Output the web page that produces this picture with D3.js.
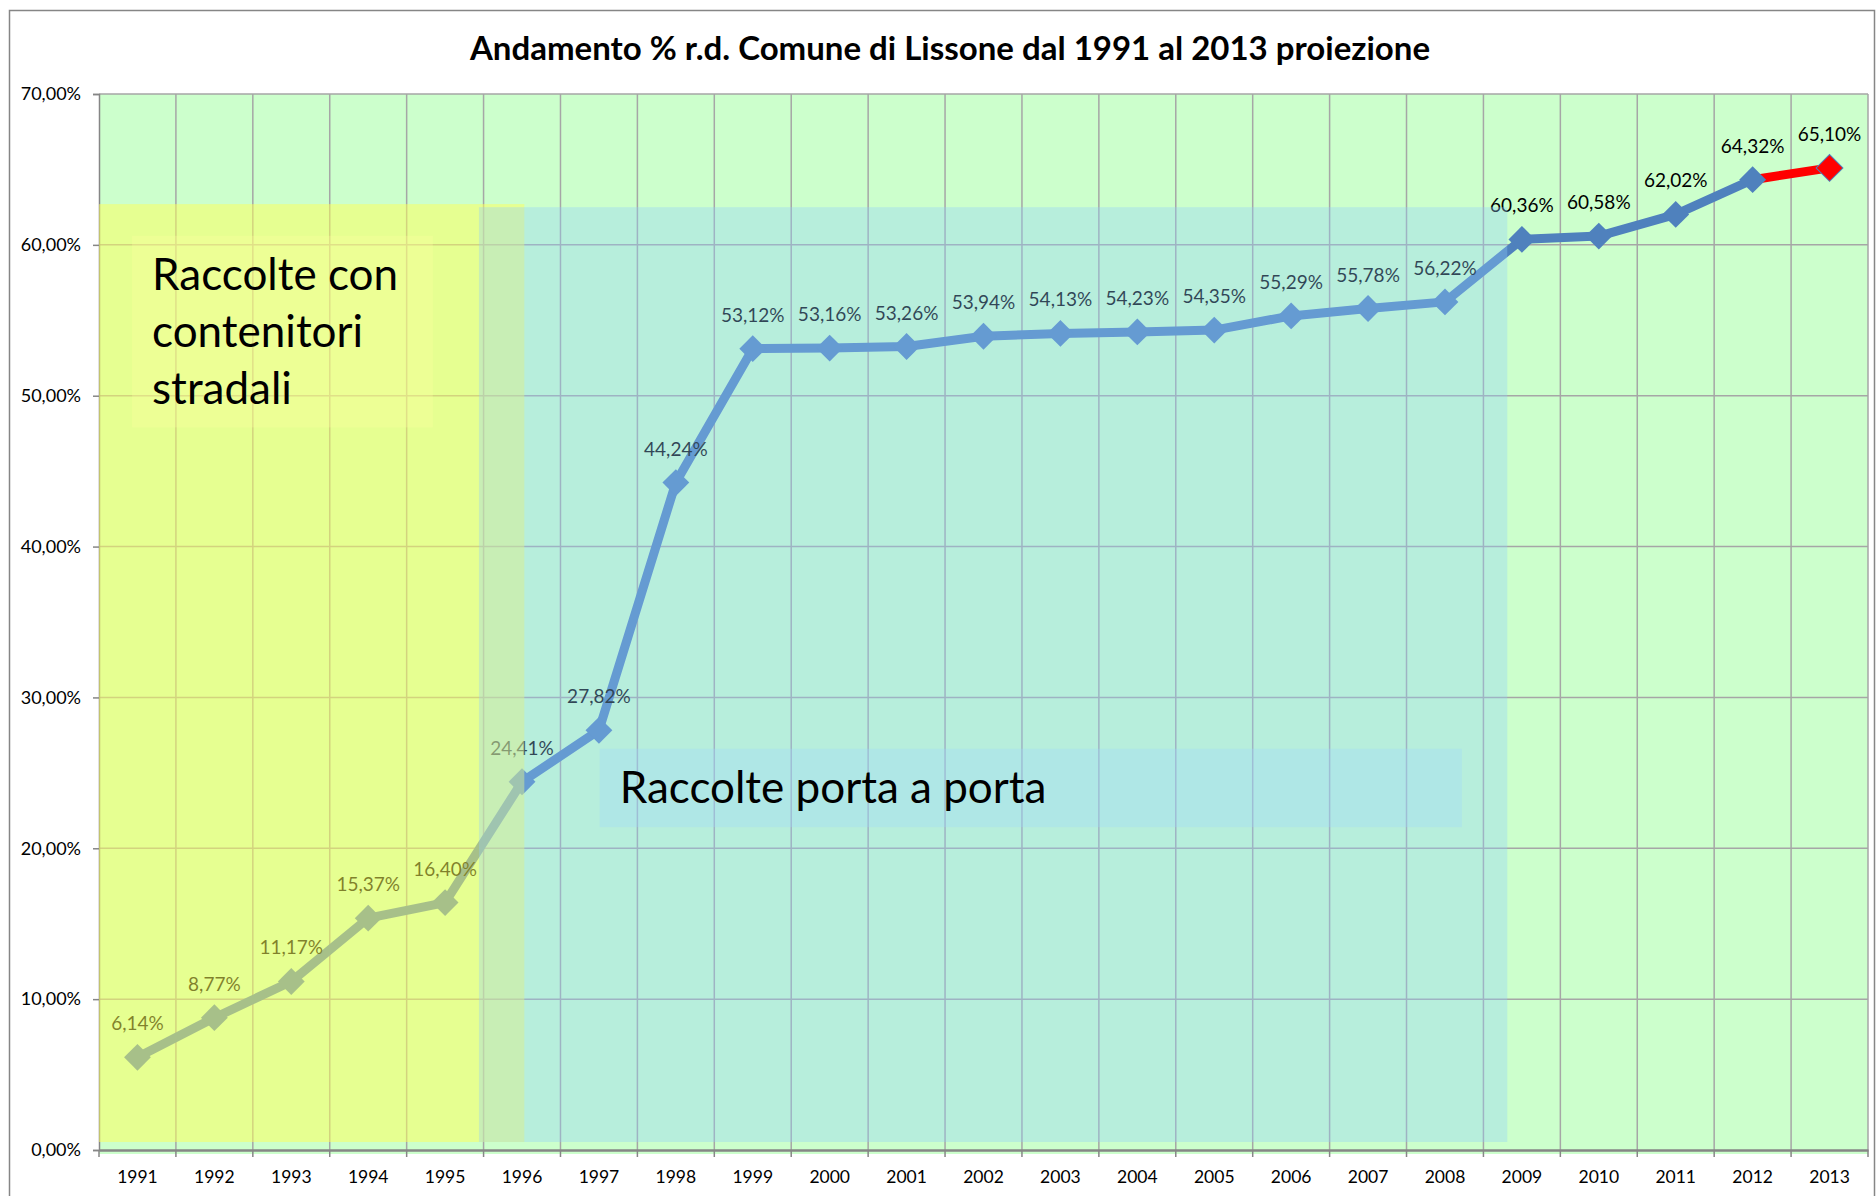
<!DOCTYPE html>
<html>
<head>
  <meta charset="utf-8">
  <title>Andamento % r.d. Lissone</title>
  <script src="https://d3js.org/d3.v7.min.js"></script>
  <style>
    body { margin: 0; background: #fff; }
    text { font-family: Lato, "Open Sans", sans-serif; }
  </style>
</head>
<body>
<script>
// dati: percentuale raccolta differenziata per anno
var anni = ["1991","1992","1993","1994","1995","1996","1997","1998","1999","2000","2001","2002",
            "2003","2004","2005","2006","2007","2008","2009","2010","2011","2012","2013"];
var valori = [6.14, 8.77, 11.17, 15.37, 16.40, 24.41, 27.82, 44.24, 53.12, 53.16, 53.26, 53.94,
              54.13, 54.23, 54.35, 55.29, 55.78, 56.22, 60.36, 60.58, 62.02, 64.32, 65.10];
var etichette = valori.map(function(v) { return v.toFixed(2).replace(".", ",") + "%"; });
var ticksY = [0, 10, 20, 30, 40, 50, 60, 70];
var titolo = "Andamento % r.d. Comune di Lissone dal 1991 al 2013 proiezione";
var ultimoReale = "2012"; // 2013 e' una proiezione

var width = 1876, height = 1196;
var mLeft = 99, mRight = 1868, mTop = 94, mBottom = 1150;

var svg = d3.select("body").append("svg").attr("width", width).attr("height", height);

// cornice esterna
svg.append("rect")
  .attr("x", 9.5).attr("y", 10.5).attr("width", 1865).attr("height", 1220)
  .attr("fill", "#fff").attr("stroke", "#868686").attr("stroke-width", 1.5);

var x = d3.scaleBand().domain(anni).range([mLeft, mRight]).padding(0);
var y = d3.scaleLinear().domain([0, 70]).range([mBottom, mTop]);
function xi(i) { return mLeft + i * x.step(); } // posizione in unita' di banda
function cx(d) { return x(d) + x.bandwidth() / 2; }

// area del grafico
svg.append("rect")
  .attr("x", mLeft).attr("y", mTop).attr("width", mRight - mLeft).attr("height", mBottom - mTop + 4)
  .attr("fill", "#ccffcc");

// griglia
svg.append("g").selectAll("line").data(ticksY.slice(1)).enter().append("line")
  .attr("x1", mLeft).attr("x2", mRight)
  .attr("y1", function(d) { return y(d); }).attr("y2", function(d) { return y(d); })
  .attr("stroke", "#a6a6a6").attr("stroke-width", 1.5);
svg.append("g").selectAll("line").data(d3.range(1, anni.length + 1)).enter().append("line")
  .attr("x1", xi).attr("x2", xi).attr("y1", mTop).attr("y2", mBottom)
  .attr("stroke", "#a6a6a6").attr("stroke-width", 1.5);

// assi
var axisY = svg.append("g").attr("transform", "translate(" + mLeft + ",0)")
  .call(d3.axisLeft(y).tickValues(ticksY).tickSize(6).tickPadding(12)
    .tickFormat(function(d) { return d.toFixed(2).replace(".", ",") + "%"; }));
var axisX = svg.append("g").attr("transform", "translate(0," + mBottom + ")")
  .call(d3.axisBottom(x).tickSize(0).tickPadding(21));
axisX.selectAll(".tick line").remove();
axisX.selectAll(".bordo").data(d3.range(0, anni.length + 1)).enter().append("line")
  .attr("class", "bordo")
  .attr("x1", xi).attr("x2", xi).attr("y1", 0).attr("y2", 7);
[axisY, axisX].forEach(function(a) {
  a.select(".domain").attr("stroke", "#868686").attr("stroke-width", 2.5);
  a.selectAll("line").attr("stroke", "#868686").attr("stroke-width", 1.5);
  a.selectAll("text").attr("fill", "#000").style("font-size", "17.5px")
    .style("font-family", "Lato, 'Open Sans', sans-serif");
});
axisY.select(".domain").attr("stroke-width", 1.5);
axisY.selectAll("text").style("font-size", "18px");

// serie
var dati = anni.map(function(a, i) { return { anno: a, v: valori[i], lab: etichette[i] }; });
var iReale = anni.indexOf(ultimoReale);
var line = d3.line().x(function(d) { return cx(d.anno); }).y(function(d) { return y(d.v); });

svg.append("path").datum(dati.slice(iReale))
  .attr("d", line).attr("fill", "none").attr("stroke", "#ff0000").attr("stroke-width", 9);
svg.append("path").datum(dati.slice(0, iReale + 1))
  .attr("d", line).attr("fill", "none").attr("stroke", "#4f81bd").attr("stroke-width", 9)
  .attr("stroke-linejoin", "round");

var diamond = d3.symbol().type(d3.symbolSquare).size(360);
svg.append("g").selectAll("path").data(dati).enter().append("path")
  .attr("d", diamond)
  .attr("transform", function(d) { return "translate(" + cx(d.anno) + "," + y(d.v) + ") rotate(45)"; })
  .attr("fill", function(d, i) { return i > iReale ? "#ff0000" : "#4f81bd"; })
  .attr("stroke", "#4f81bd").attr("stroke-width", function(d, i) { return i > iReale ? 1 : 0; });

svg.append("g").selectAll("text").data(dati).enter().append("text")
  .attr("x", function(d) { return cx(d.anno); })
  .attr("y", function(d) { return y(d.v) - 27; })
  .attr("text-anchor", "middle").style("font-size", "19px").attr("fill", "#000")
  .text(function(d) { return d.lab; });

// zone semitrasparenti (in unita' di banda / percentuale)
var zone = [
  { x0: 0, x1: 5.53, y0: 0.53, y1: 62.7, fill: "#ffff55", op: 0.5 },
  { x0: 4.94, x1: 18.31, y0: 0.53, y1: 62.5, fill: "#91cdfb", op: 0.34 }
];
svg.append("g").selectAll("rect").data(zone).enter().append("rect")
  .attr("x", function(d) { return xi(d.x0); })
  .attr("width", function(d) { return xi(d.x1) - xi(d.x0); })
  .attr("y", function(d) { return y(d.y1); })
  .attr("height", function(d) { return y(d.y0) - y(d.y1); })
  .attr("fill", function(d) { return d.fill; }).attr("opacity", function(d) { return d.op; });

var riquadri = [
  { x0: 0.43, x1: 4.34, y0: 47.9, y1: 60.6, fill: "#ffffa0", op: 0.3,
    righe: ["Raccolte con", "contenitori", "stradali"] },
  { x0: 6.51, x1: 17.72, y0: 21.4, y1: 26.6, fill: "#a0d8ff", op: 0.3,
    righe: ["Raccolte porta a porta"] }
];
var box = svg.append("g").selectAll("g").data(riquadri).enter().append("g");
box.append("rect")
  .attr("x", function(d) { return xi(d.x0); })
  .attr("width", function(d) { return xi(d.x1) - xi(d.x0); })
  .attr("y", function(d) { return y(d.y1); })
  .attr("height", function(d) { return y(d.y0) - y(d.y1); })
  .attr("fill", function(d) { return d.fill; }).attr("opacity", function(d) { return d.op; });
box.each(function(d) {
  var g = d3.select(this);
  d.righe.forEach(function(r, k) {
    g.append("text")
      .attr("x", xi(d.x0) + 20)
      .attr("y", y(d.y1) + 54 + k * 57)
      .style("font-size", "44px").attr("fill", "#000")
      .text(r);
  });
});

// titolo
svg.append("text")
  .attr("x", 950).attr("y", 60).attr("text-anchor", "middle")
  .style("font-size", "33px").style("font-weight", "bold").attr("fill", "#000")
  .text(titolo);
</script>
</body>
</html>
